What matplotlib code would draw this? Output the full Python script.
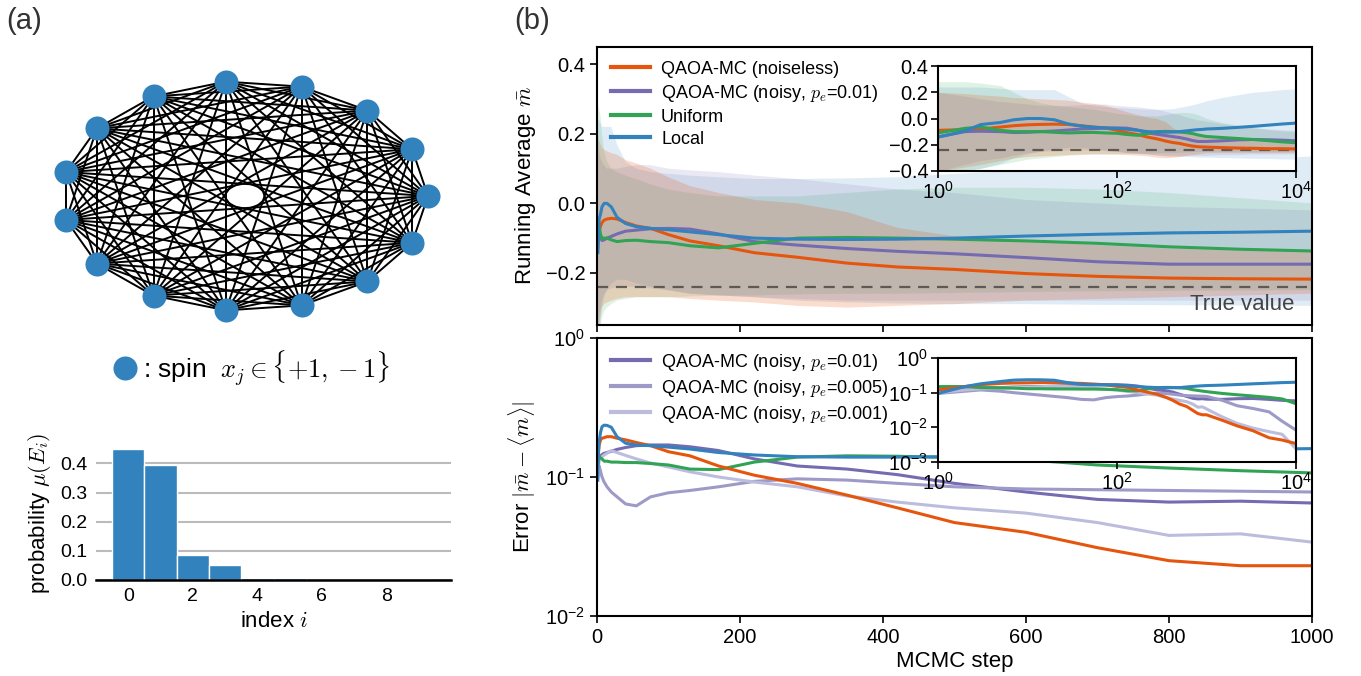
import numpy as np
import matplotlib
matplotlib.use('Agg')
import matplotlib.pyplot as plt
from matplotlib.ticker import NullLocator

plt.rcParams['font.family'] = ['Liberation Sans', 'DejaVu Sans']
plt.rcParams['mathtext.fontset'] = 'cm'
plt.rcParams['axes.linewidth'] = 1.5
plt.rcParams['xtick.major.width'] = 1.2
plt.rcParams['ytick.major.width'] = 1.2
plt.rcParams['xtick.major.size'] = 5
plt.rcParams['ytick.major.size'] = 5

# ---------------- data ----------------
n_spins = 15

bar_index = [0, 1, 2, 3, 4, 5, 6, 7, 8, 9]
bar_prob = [0.449, 0.394, 0.086, 0.051, 0.007, 0.006, 0.001, 0.0005, 0.0003, 0.0002]

true_value = -0.24

steps = [1, 2, 3, 5, 7, 10, 14, 20, 28, 40, 55, 75, 100, 130, 170, 220, 280, 350,
         420, 500, 600, 700, 800, 900, 1000, 1500, 2200, 3300, 5000, 7000, 10000]

# running average (mean of runs)
avg_noiseless = [-0.09, -0.085, -0.08, -0.065, -0.055, -0.048, -0.045, -0.043, -0.045, -0.055, -0.065,
                 -0.072, -0.09, -0.108, -0.122, -0.142, -0.155, -0.172, -0.183, -0.19, -0.202, -0.21,
                 -0.215, -0.217, -0.218, -0.222, -0.225, -0.227, -0.23, -0.23, -0.232]
avg_noisy = [-0.14, -0.1, -0.097, -0.1, -0.107, -0.105, -0.1, -0.095, -0.088, -0.08, -0.077,
             -0.073, -0.072, -0.074, -0.088, -0.11, -0.12, -0.13, -0.138, -0.145, -0.156, -0.168,
             -0.175, -0.175, -0.175, -0.17, -0.163, -0.16, -0.162, -0.165, -0.17]
avg_uniform = [-0.11, -0.075, -0.065, -0.09, -0.1, -0.1, -0.1, -0.105, -0.11, -0.107, -0.106,
               -0.11, -0.113, -0.122, -0.128, -0.115, -0.1, -0.098, -0.1, -0.103, -0.108, -0.115,
               -0.125, -0.132, -0.137, -0.145, -0.152, -0.16, -0.17, -0.178, -0.185]
avg_local = [-0.142, -0.096, -0.046, -0.03, -0.01, 0.0, 0.0, -0.01, -0.04, -0.058, -0.067,
             -0.072, -0.076, -0.082, -0.09, -0.1, -0.103, -0.104, -0.103, -0.1, -0.094, -0.089,
             -0.085, -0.083, -0.08, -0.075, -0.068, -0.06, -0.05, -0.042, -0.035]

# spread bands
hi_noiseless = [0.2, 0.19, 0.18, 0.17, 0.16, 0.155, 0.15, 0.145, 0.14, 0.125, 0.115, 0.1, 0.075,
                0.05, 0.03, 0.01, 0.0, -0.025, -0.07, -0.095, -0.11, -0.12, -0.13, -0.135, -0.14,
                -0.15, -0.16, -0.17, -0.18, -0.185, -0.19]
lo_noiseless = [-0.4, -0.37, -0.35, -0.32, -0.3, -0.29, -0.285, -0.28, -0.275, -0.27, -0.27, -0.27,
                -0.27, -0.275, -0.28, -0.285, -0.295, -0.3, -0.295, -0.29, -0.28, -0.275, -0.27,
                -0.265, -0.26, -0.26, -0.26, -0.26, -0.26, -0.26, -0.26]
hi_noisy = [0.2, 0.17, 0.15, 0.13, 0.12, 0.11, 0.1, 0.1, 0.1, 0.105, 0.11, 0.11, 0.1, 0.095, 0.09,
            0.08, 0.07, 0.055, 0.04, 0.03, 0.01, 0.0, -0.01, -0.015, -0.02, -0.04, -0.055, -0.07,
            -0.08, -0.085, -0.09]
lo_noisy = [-0.4, -0.35, -0.32, -0.3, -0.28, -0.26, -0.25, -0.245, -0.24, -0.24, -0.24, -0.245,
            -0.25, -0.26, -0.265, -0.27, -0.275, -0.28, -0.28, -0.28, -0.28, -0.28, -0.28, -0.28,
            -0.28, -0.275, -0.275, -0.27, -0.27, -0.27, -0.27]
hi_uniform = [0.28, 0.28, 0.27, 0.25, 0.2, 0.15, 0.12, 0.1, 0.09, 0.08, 0.07, 0.055, 0.04, 0.03,
              0.02, 0.02, 0.02, 0.03, 0.04, 0.045, 0.045, 0.04, 0.03, 0.015, 0.0, -0.03, -0.05,
              -0.07, -0.085, -0.095, -0.1]
lo_uniform = [-0.4, -0.39, -0.38, -0.35, -0.33, -0.31, -0.3, -0.29, -0.28, -0.275, -0.27, -0.27,
              -0.27, -0.268, -0.265, -0.265, -0.262, -0.26, -0.26, -0.258, -0.255, -0.253, -0.252,
              -0.251, -0.25, -0.25, -0.25, -0.25, -0.25, -0.25, -0.25]
hi_local = [0.24, 0.24, 0.24, 0.23, 0.22, 0.22, 0.22, 0.22, 0.17, 0.12, 0.1, 0.09, 0.085, 0.08,
            0.075, 0.07, 0.07, 0.072, 0.075, 0.085, 0.095, 0.105, 0.115, 0.125, 0.135, 0.16, 0.18,
            0.2, 0.21, 0.22, 0.225]
lo_local = [-0.42, -0.4, -0.38, -0.34, -0.3, -0.27, -0.25, -0.23, -0.22, -0.22, -0.23, -0.24, -0.25,
            -0.26, -0.265, -0.27, -0.28, -0.285, -0.288, -0.29, -0.29, -0.292, -0.293, -0.294,
            -0.295, -0.298, -0.3, -0.303, -0.305, -0.308, -0.31]

# errors |m_bar - <m>|
err_noiseless = [0.12, 0.15, 0.17, 0.185, 0.19, 0.192, 0.195, 0.195, 0.19, 0.185, 0.177, 0.168,
                 0.152, 0.142, 0.12, 0.103, 0.09, 0.074, 0.06, 0.047, 0.04, 0.031, 0.025, 0.023,
                 0.023, 0.016, 0.011, 0.008, 0.005, 0.0043, 0.0034]
err_p01 = [0.11, 0.132, 0.135, 0.14, 0.145, 0.148, 0.15, 0.153, 0.158, 0.163, 0.168, 0.17, 0.17,
           0.165, 0.155, 0.135, 0.12, 0.114, 0.104, 0.09, 0.078, 0.069, 0.066, 0.067, 0.065,
           0.064, 0.067, 0.068, 0.064, 0.06, 0.058]
err_p005 = [0.095, 0.11, 0.12, 0.11, 0.1, 0.092, 0.085, 0.078, 0.072, 0.064, 0.062, 0.072, 0.077,
            0.08, 0.085, 0.093, 0.097, 0.095, 0.09, 0.085, 0.082, 0.081, 0.08, 0.079, 0.078,
            0.06, 0.042, 0.035, 0.028, 0.015, 0.0083]
err_p001 = [0.1, 0.12, 0.13, 0.135, 0.14, 0.144, 0.148, 0.155, 0.15, 0.143, 0.135, 0.126, 0.118,
            0.109, 0.1, 0.092, 0.085, 0.073, 0.066, 0.06, 0.055, 0.047, 0.038, 0.039, 0.034,
            0.02, 0.013, 0.0095, 0.0075, 0.0063, 0.0024]
err_uniform = [0.15, 0.15, 0.14, 0.137, 0.135, 0.13, 0.13, 0.128, 0.128, 0.127, 0.127, 0.125,
               0.122, 0.114, 0.113, 0.128, 0.139, 0.142, 0.141, 0.138, 0.133, 0.122, 0.116,
               0.111, 0.107, 0.095, 0.087, 0.08, 0.073, 0.066, 0.048]
err_local = [0.095, 0.15, 0.18, 0.21, 0.23, 0.236, 0.235, 0.228, 0.195, 0.175, 0.17, 0.168, 0.164,
             0.159, 0.15, 0.144, 0.14, 0.139, 0.139, 0.14, 0.146, 0.151, 0.155, 0.158, 0.16,
             0.165, 0.172, 0.18, 0.188, 0.195, 0.2]

C_OR = '#e6550d'
C_P1 = '#756bb1'
C_P2 = '#9e9ac8'
C_P3 = '#bcbddc'
C_GR = '#31a354'
C_BL = '#3182bd'

TICK = 14.5
LABEL = 16
LEG = 13

W, H = 1361, 676
fig = plt.figure(figsize=(W / 100, H / 100), dpi=100)


def px_axes(x0, y0, x1, y1):
    # axes placed by pixel box (left, top, right, bottom)
    return fig.add_axes([x0 / W, 1 - y1 / H, (x1 - x0) / W, (y1 - y0) / H])


# ---------------- (a) graph ----------------
axg = px_axes(30, 55, 460, 340)
theta = 2 * np.pi * np.arange(n_spins) / n_spins
gx, gy = np.cos(theta), np.sin(theta)
for i in range(n_spins):
    for j in range(i + 1, n_spins):
        axg.plot([gx[i], gx[j]], [gy[i], gy[j]], color='black', lw=1.4, zorder=1)
axg.scatter(gx, gy, s=300, color=C_BL, zorder=2, linewidths=0)
axg.set_xlim(-1.175, 1.175)
axg.set_ylim(-1.252, 1.226)
axg.axis('off')

axg.scatter([125 / W], [1 - 368 / H], s=300, color=C_BL, linewidths=0,
            transform=fig.transFigure, clip_on=False)
fig.text(143 / W, 1 - 369 / H, r': spin  $x_j \in \{+1,-1\}$', fontsize=19,
         va='center', ha='left')

fig.text(6 / W, 1 - 21 / H, '(a)', fontsize=21, color='#333333', va='center')
fig.text(514 / W, 1 - 21 / H, '(b)', fontsize=21, color='#333333', va='center')

# ---------------- (a) bars ----------------
axb = px_axes(96, 446, 451, 580)
axb.bar(bar_index, bar_prob, width=1.0, color=C_BL, edgecolor='white', linewidth=1.0, zorder=2)
axb.set_xlim(-1, 10)
axb.set_ylim(0, 0.46)
axb.set_yticks([0.0, 0.1, 0.2, 0.3, 0.4])
axb.set_xticks([0, 2, 4, 6, 8])
axb.grid(axis='y', color='#bbbbbb', lw=1.5, zorder=0)
for s in ['left', 'right', 'top']:
    axb.spines[s].set_visible(False)
axb.spines['bottom'].set_linewidth(1.8)
axb.tick_params(length=0, labelsize=14, pad=6)
axb.set_ylabel(r'probability $\mu(E_i)$', fontsize=LABEL)
axb.set_xlabel(r'index $i$', fontsize=LABEL, labelpad=4)
axb.yaxis.set_label_coords(-0.122, 0.5)

# ---------------- (b) top: running average ----------------
ax1 = px_axes(597, 47, 1312, 325)
bands = [(lo_local, hi_local, C_BL, 0.15), (lo_uniform, hi_uniform, C_GR, 0.15),
         (lo_noisy, hi_noisy, C_P1, 0.15), (lo_noiseless, hi_noiseless, C_OR, 0.2)]
series = [(avg_noiseless, C_OR, 'QAOA-MC (noiseless)'),
          (avg_noisy, C_P1, r'QAOA-MC (noisy, $p_e$=0.01)'),
          (avg_uniform, C_GR, 'Uniform'),
          (avg_local, C_BL, 'Local')]


def draw_avg(ax, legend):
    for lo, hi, c, a in bands:
        ax.fill_between(steps, lo, hi, color=c, alpha=a, linewidth=0)
    ax.axhline(true_value, color='#3a3a3a', alpha=0.75, lw=1.6, ls=(0, (5, 3.5)))
    for y, c, lab in series:
        ax.plot(steps, y, color=c, lw=2.2, label=lab if legend else None)


draw_avg(ax1, True)
ax1.set_xlim(0, 1000)
ax1.set_ylim(-0.35, 0.45)
ax1.set_yticks([-0.2, 0.0, 0.2, 0.4])
ax1.set_xticks([0, 200, 400, 600, 800, 1000])
ax1.set_xticklabels([])
ax1.tick_params(labelsize=TICK)
ax1.set_ylabel(r'Running Average $\bar{m}$', fontsize=LABEL)
ax1.yaxis.set_label_coords(-0.083, 0.5)
ax1.text(0.976, 0.072, 'True value', transform=ax1.transAxes, ha='right', va='center',
         fontsize=LABEL, color='#444444')
ax1.legend(loc='upper left', frameon=False, fontsize=LEG, handlelength=2.2,
           handletextpad=0.6, labelspacing=0.28, borderaxespad=0.35)
for line in ax1.get_legend().get_lines():
    line.set_linewidth(3)

ins1 = px_axes(938, 66, 1296, 171)
draw_avg(ins1, False)
ins1.set_xscale('log')
ins1.set_xlim(1, 1e4)
ins1.set_ylim(-0.4, 0.4)
ins1.set_xticks([1, 1e2, 1e4])
ins1.xaxis.set_minor_locator(NullLocator())
ins1.set_yticks([-0.4, -0.2, 0.0, 0.2, 0.4])
ins1.tick_params(labelsize=TICK, pad=2)

# ---------------- (b) bottom: error ----------------
ax2 = px_axes(597, 338, 1312, 616)
err_series = [(err_p01, C_P1, r'QAOA-MC (noisy, $p_e$=0.01)'),
              (err_p005, C_P2, r'QAOA-MC (noisy, $p_e$=0.005)'),
              (err_p001, C_P3, r'QAOA-MC (noisy, $p_e$=0.001)'),
              (err_uniform, C_GR, None),
              (err_noiseless, C_OR, None),
              (err_local, C_BL, None)]


def draw_err(ax, legend):
    for y, c, lab in err_series:
        ax.plot(steps, y, color=c, lw=2.2, label=lab if legend else None)


draw_err(ax2, True)
ax2.set_yscale('log')
ax2.set_xlim(0, 1000)
ax2.set_ylim(1e-2, 1)
ax2.set_yticks([1e-2, 1e-1, 1])
ax2.yaxis.set_minor_locator(NullLocator())
ax2.set_xticks([0, 200, 400, 600, 800, 1000])
ax2.tick_params(labelsize=TICK)
ax2.set_ylabel(r'Error $|\bar{m}-\langle m\rangle|$', fontsize=LABEL)
ax2.yaxis.set_label_coords(-0.083, 0.5)
ax2.set_xlabel('MCMC step', fontsize=LABEL)
ax2.xaxis.set_label_coords(0.5, -0.125)
ax2.legend(loc='upper left', frameon=False, fontsize=LEG, handlelength=2.2,
           handletextpad=0.6, labelspacing=0.28, borderaxespad=0.35)
for line in ax2.get_legend().get_lines():
    line.set_linewidth(3)

ins2 = px_axes(938, 358, 1296, 462)
draw_err(ins2, False)
ins2.set_xscale('log')
ins2.set_yscale('log')
ins2.set_xlim(1, 1e4)
ins2.set_ylim(1e-3, 1)
ins2.set_xticks([1, 1e2, 1e4])
ins2.set_yticks([1e-3, 1e-2, 1e-1, 1])
ins2.xaxis.set_minor_locator(NullLocator())
ins2.yaxis.set_minor_locator(NullLocator())
ins2.tick_params(labelsize=TICK, pad=2)

fig.savefig('out.png', dpi=100)
